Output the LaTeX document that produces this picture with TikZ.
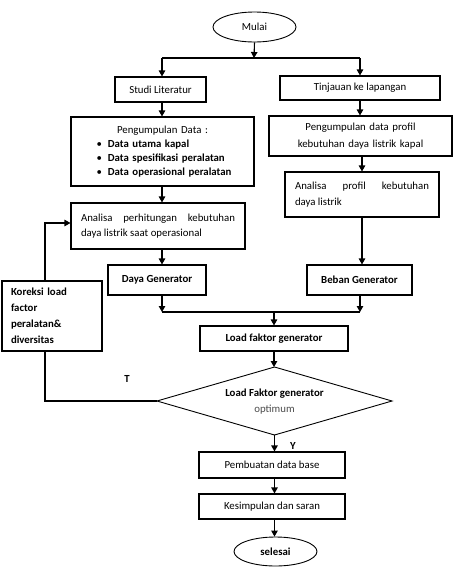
\documentclass[tikz,border=0pt]{standalone}
\usepackage{fontspec}
\setmainfont{Carlito}
\usetikzlibrary{arrows.meta,shapes.geometric}
\begin{document}
\begin{tikzpicture}[x=1pt,y=-1pt,
 font=\fontsize{10.8}{14}\selectfont,
 box/.style={draw, line width=1.1pt, inner sep=0pt, anchor=center},
 arr/.style={-{Triangle[length=6pt,width=6.5pt]}, line width=1.1pt},
 ln/.style={line width=1.1pt},
 term/.style={draw, ellipse, line width=0.9pt, inner sep=0pt},
]
\useasboundingbox (0,0) rectangle (455,573);
\fill[white] (0,0) rectangle (455,573);

\node[term, minimum width=83pt, minimum height=30pt] (mulai) at (254.5,27) {Mulai};
\node[box, minimum width=91pt, minimum height=25pt] (studi) at (160.5,89.5) {Studi Literatur};
\node[box, minimum width=160pt, minimum height=24pt] (tinj) at (360,88) {Tinjauan ke lapangan};
\node[box, minimum width=183pt, minimum height=69pt, text width=160pt, align=left] (pdata) at (162.5,151.5)
 {{\centering Pengumpulan Data :\par}
  \hspace*{14pt}\textbullet\hspace{6pt}\textbf{Data utama kapal}\par
  \hspace*{14pt}\textbullet\hspace{6pt}\textbf{Data spesifikasi peralatan}\par
  \hspace*{14pt}\textbullet\hspace{6pt}\textbf{Data operasional peralatan}};
\node[box, minimum width=183pt, minimum height=40pt, text width=178pt, align=center, font=\fontsize{10.8}{17}\selectfont] (pprof) at (360.5,136)
 {Pengumpulan data profil\\kebutuhan daya listrik kapal};
\node[box, minimum width=154pt, minimum height=45pt, text width=134pt, align=justify, font=\fontsize{10.8}{16}\selectfont] (aprof) at (362,194.5)
 {Analisa profil kebutuhan\linebreak daya listrik};
\node[box, minimum width=174pt, minimum height=46pt, text width=154pt, align=justify, font=\fontsize{10.8}{15}\selectfont] (aperh) at (158,226)
 {Analisa perhitungan kebutuhan\linebreak daya listrik saat operasional};
\node[box, minimum width=98pt, minimum height=30pt, font=\fontsize{10.8}{14}\selectfont\bfseries] (daya) at (157,280) {Daya Generator};
\node[box, minimum width=105pt, minimum height=30pt, font=\fontsize{10.8}{14}\selectfont\bfseries] (beban) at (359.5,280) {Beban Generator};
\node[box, minimum width=100pt, minimum height=70pt, text width=82pt, align=left, font=\fontsize{10.8}{16}\selectfont\bfseries] (kor) at (52,316)
 {Koreksi load\\factor\\peralatan\&\\diversitas};
\node[box, minimum width=148pt, minimum height=25pt, font=\fontsize{10.8}{14}\selectfont\bfseries] (lf) at (274,338.5) {Load faktor generator};

\coordinate (dN) at (274.5,367);
\coordinate (dE) at (392,401);
\coordinate (dS) at (274.5,435);
\coordinate (dW) at (157,401);
\draw[line width=0.9pt] (dN) -- (dE) -- (dS) -- (dW) -- cycle;
\node[align=center, inner sep=0pt, font=\fontsize{10.8}{16}\selectfont] (dec) at (274.5,402)
 {\textbf{Load Faktor generator}\\{\color{black!70}optimum}};

\node[box, minimum width=146pt, minimum height=26pt] (pemb) at (272,465) {Pembuatan data base};
\node[box, minimum width=146pt, minimum height=25pt] (kes) at (272,506.5) {Kesimpulan dan saran};
\node[term, minimum width=83pt, minimum height=29pt, font=\fontsize{10.8}{14}\selectfont\bfseries] (sel) at (275.5,551.5) {selesai};

\node[font=\fontsize{10.8}{14}\selectfont\bfseries] (T) at (127,379) {T};
\node[font=\fontsize{10.8}{14}\selectfont\bfseries] (Y) at (293,446) {Y};

\coordinate (jt) at (254,58);
\coordinate (jl) at (162,58);
\coordinate (jr) at (360,58);
\coordinate (jr2) at (362,58);
\draw[arr] (mulai.south) -- (jt);
\draw[ln] (jl) -- (jr);
\draw[arr] (jl) -- (jl |- studi.north);
\draw[arr] (jr) -- (jr |- tinj.north);
\draw[arr] (jl |- studi.south) -- (jl |- pdata.north);
\draw[arr] (jl |- pdata.south) -- (jl |- aperh.north);
\draw[arr] (jl |- aperh.south) -- (jl |- daya.north);
\draw[arr] (jr |- tinj.south) -- (jr |- pprof.north);
\draw[arr] (jr2 |- pprof.south) -- (jr2 |- aprof.north);
\draw[arr] (jr2 |- aprof.south) -- (jr2 |- beban.north);

\coordinate (bl) at (162,312);
\coordinate (br) at (360,312);
\coordinate (bm) at (274,312);
\draw[arr] (jl |- daya.south) -- (bl);
\draw[arr] (jr |- beban.south) -- (br);
\draw[ln] (bl) -- (br);
\draw[arr] (bm) -- (bm |- lf.north);
\draw[arr] (bm |- lf.south) -- (bm |- dN);

\coordinate (lt) at (45,223);
\draw[ln] (dW) -- (lt |- dW) -- (lt |- kor.south);
\draw[arr] (lt |- kor.north) -- (lt) -- (aperh.west |- lt);

\draw[arr] (dS) -- (dS |- pemb.north);
\draw[arr] (dS |- pemb.south) -- (dS |- kes.north);
\draw[arr] (dS |- kes.south) -- (dS |- sel.north);
\end{tikzpicture}
\end{document}
